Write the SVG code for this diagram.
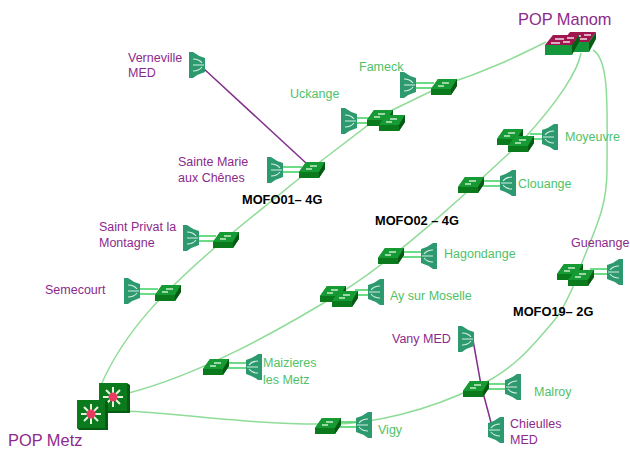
<svg xmlns="http://www.w3.org/2000/svg" width="630" height="450" viewBox="0 0 630 450">
<style>
text{font-family:"Liberation Sans",Arial,sans-serif;font-size:12.5px}
.g{fill:#4fc267}.p{fill:#8c2a8c}.k{fill:#000;font-weight:bold;font-size:12.8px}.big{font-size:16.4px}
.lk{fill:none;stroke:#8fdc98;stroke-width:1.5}
.med{fill:none;stroke:#83308c;stroke-width:1.5}
.st{fill:none;stroke:#3fd060;stroke-width:1.6}
</style>
<defs>
<g id="sw"><path d="M-13 4 L-6 -6 H13 V1 L7 10 H-13Z" fill="#0a7a1c"/><path d="M-13 4 L-6 -6 H13 L7 4Z" fill="#169a33"/><path d="M7 4 L13 -6 V1 L7 10Z" fill="#075a14"/><path d="M-6 1 H0 M-2 -2 H5" stroke="#c8eccd" stroke-width="1.3"/></g>
<g id="ant"><path d="M-8 -13 H-4 Q1 -9 8 -7 V7 Q1 9 -4 13 H-8Z" fill="#2c9a6e"/><path d="M-4 -6 Q2 -6 5 -2 M-4 6 Q2 6 5 2 M-4 0 H7" fill="none" stroke="#d6efe3" stroke-width="1.1"/></g>
<g id="core"><rect x="-14" y="-14" width="28" height="28" fill="#0b7a1d"/><path d="M14 -14 L17 -12 V16 L14 14Z M-14 14 L-12 16 H17 L14 14Z" fill="#075c14"/><path d="M-10 0 H10 M0 -10 V10 M-7 -7 L7 7 M-7 7 L7 -7" stroke="#e6f5df" stroke-width="2"/><circle r="4.5" fill="#e93a60"/></g>
<g id="pop"><path d="M-17 0 L-9 -10 H17 L10 0Z" fill="#a0174f"/><rect x="-17" y="0" width="27" height="10" fill="#14963a"/><path d="M10 0 L17 -10 V-3 L10 10Z" fill="#075c14"/><path d="M-11 -2 H-2 M-7 -6 H2 M1 -3 H8 M5 -7 H12" stroke="#f3dbe5" stroke-width="1.7"/></g>
</defs>
<g id="connectors">
<path class="lk" d="M101 385 C125 330 165 290 226 238 L312 168 L380 116 L444 85 C490 70 520 55 546 42"/>
<path class="lk" d="M125 394 C200 375 280 330 345 290 C400 255 470 190 521 142 C560 100 578 70 581 53"/>
<path class="lk" d="M593 50 C610 60 607 110 607 170 C607 205 597 225 583 260 C575 285 565 305 557 317 C530 350 510 372 476 387 C430 410 370 425 328 424 C250 425 170 412 125 411"/>
<path class="med" d="M203 68 L306 163"/>
<path class="med" d="M473 340 L481 385 L493 430"/>
<path class="st" d="M282 167 H302 M282 172 H302"/>
<path class="st" d="M198 236 H216 M198 241 H216"/>
<path class="st" d="M139 289 H158 M139 294 H158"/>
<path class="st" d="M415 83 H434 M415 88 H434"/>
<path class="st" d="M356 118 H370 M356 123 H370"/>
<path class="st" d="M530 134 H545 M530 139 H545"/>
<path class="st" d="M481 181 H502 M481 186 H502"/>
<path class="st" d="M401 252 H423 M401 257 H423"/>
<path class="st" d="M355 290 H370 M355 295 H370"/>
<path class="st" d="M226 363 H248 M226 368 H248"/>
<path class="st" d="M338 422 H358 M338 427 H358"/>
<path class="st" d="M486 384 H507 M486 389 H507"/>
<path class="st" d="M590 269 H609 M590 274 H609"/>
</g>
<g id="pop-manom"><use href="#pop" x="579" y="42"/><use href="#pop" x="562" y="45"/><text x="518" y="25" class="p big">POP Manom</text></g>
<g id="pop-metz"><use href="#core" x="113" y="397"/><use href="#core" x="91" y="414"/><text x="8" y="446" class="p big">POP Metz</text></g>
<g id="verneville"><use href="#ant" x="197" y="65"/><text x="128" y="62" class="p">Verneville</text><text x="128" y="77" class="p">MED</text></g>
<g id="sainte-marie"><use href="#sw" x="312" y="168"/><use href="#ant" x="275" y="170"/><text x="178" y="166" class="p">Sainte Marie</text><text x="178" y="182" class="p">aux Chênes</text></g>
<g id="saint-privat"><use href="#sw" x="226" y="238"/><use href="#ant" x="191" y="238"/><text x="99" y="231" class="p">Saint Privat la</text><text x="99" y="247" class="p">Montagne</text></g>
<g id="semecourt"><use href="#sw" x="168" y="291"/><use href="#ant" x="132" y="291"/><text x="45" y="294" class="p">Semecourt</text></g>
<g id="fameck"><use href="#sw" x="444" y="85"/><use href="#ant" x="408" y="85"/><text x="359" y="71" class="g">Fameck</text></g>
<g id="uckange"><use href="#sw" x="380" y="116"/><use href="#sw" x="392" y="121"/><use href="#ant" x="349" y="121"/><text x="290" y="98" class="g">Uckange</text></g>
<g id="moyeuvre"><use href="#sw" x="510" y="135"/><use href="#sw" x="521" y="142"/><use href="#ant" transform="translate(550 137) scale(-1 1)"/><text x="565" y="141" class="g">Moyeuvre</text></g>
<g id="clouange"><use href="#sw" x="471" y="183"/><use href="#ant" transform="translate(508 183) scale(-1 1)"/><text x="518" y="188" class="g">Clouange</text></g>
<g id="hagondange"><use href="#sw" x="391" y="254"/><use href="#ant" transform="translate(429 256) scale(-1 1)"/><text x="444" y="258" class="g">Hagondange</text></g>
<g id="ay"><use href="#sw" x="333" y="292"/><use href="#sw" x="345" y="297"/><use href="#ant" transform="translate(376 292) scale(-1 1)"/><text x="390" y="300" class="g">Ay sur Moselle</text></g>
<g id="maizieres"><use href="#sw" x="216" y="365"/><use href="#ant" transform="translate(254 367) scale(-1 1)"/><text x="263" y="367" class="g">Maizieres</text><text x="263" y="384" class="g">les Metz</text></g>
<g id="vigy"><use href="#sw" x="328" y="424"/><use href="#ant" transform="translate(364 425) scale(-1 1)"/><text x="378" y="434" class="g">Vigy</text></g>
<g id="malroy"><use href="#sw" x="476" y="387"/><use href="#ant" transform="translate(513 387) scale(-1 1)"/><text x="534" y="396" class="g">Malroy</text></g>
<g id="guenange"><use href="#sw" x="570" y="270"/><use href="#sw" x="581" y="276"/><use href="#ant" transform="translate(615 272) scale(-1 1)"/><text x="571" y="247" class="p">Guenange</text></g>
<g id="vany"><use href="#ant" x="466" y="339"/><text x="392" y="343" class="p">Vany MED</text></g>
<g id="chieulles"><use href="#ant" transform="translate(496 430) scale(-1 1)"/><text x="510" y="428" class="p">Chieulles</text><text x="510" y="444" class="p">MED</text></g>
<text id="mofo01" x="242" y="204" class="k">MOFO01– 4G</text>
<text id="mofo02" x="375" y="225" class="k">MOFO02 – 4G</text>
<text id="mofo19" x="513" y="316" class="k">MOFO19– 2G</text>
</svg>
